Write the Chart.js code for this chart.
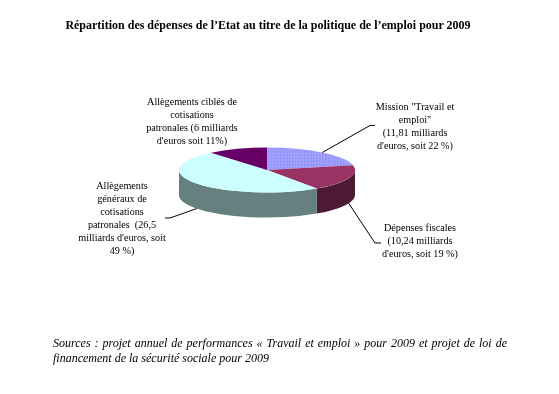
<!doctype html>
<html lang="fr">
<head>
    <meta charset="utf-8">
    <title>Répartition des dépenses de l'Etat</title>
    <script src="https://cdn.jsdelivr.net/npm/chart.js"></script>
    <style>
        body {
            margin: 0;
            background: #fff;
        }

        #wrap {
            position: relative;
            width: 559px;
            height: 394px;
            overflow: hidden;
        }

        #pie {
            position: absolute;
            left: 0;
            top: 0;
        }

        #title {
            position: absolute;
            left: 0;
            top: 18px;
            width: 536px;
            font: bold 12px/14px "Liberation Serif", serif;
            color: #000;
            text-align: center;
            white-space: nowrap;
        }

        #source {
            position: absolute;
            left: 53px;
            top: 336px;
            width: 454px;
            font: italic 12px/15px "Liberation Serif", serif;
            color: #000;
            text-align: justify;
        }
    </style>
</head>

<body>
    <div id="wrap">
        <canvas id="pie" width="559" height="394"></canvas>
        <div id="title">Répartition des dépenses de l’Etat au titre de la politique de l’emploi pour 2009</div>
        <div id="source">Sources : projet annuel de performances « Travail et emploi » pour 2009 et projet de loi de financement de la sécurité sociale pour 2009</div>
    </div>

    <script>
        const categories = ['Mission "Travail et emploi"', 'Dépenses fiscales', 'Allègements généraux de cotisations patronales', 'Allègements ciblés de cotisations patronales'];
        const billions = [11.81, 10.24, 26.5, 6];
        const labelLines = [
            ['Mission "Travail et', 'emploi"', '(11,81 milliards', "d'euros, soit 22 %)"],
            ['Dépenses fiscales', '(10,24 milliards', "d'euros, soit 19 %)"],
            ['Allègements', 'généraux de', 'cotisations', 'patronales  (26,5', "milliards d'euros, soit", '49 %)'],
            ['Allègements ciblés de', 'cotisations', 'patronales (6 milliards', "d'euros soit 11%)"]
        ];
        const sideColors = ['#6b6bb3', '#4d1a33', '#668080', '#330033'];

        // where the label blocks sit, and the elbow of each leader line
        const labelPos = [[415, 107], [420, 228], [122, 186], [192, 102]];
        const elbows = [[[370, 125.5], [375, 125.5]], [[375, 243], [381, 243]], [[170, 218], [165, 218]], null];

        const squash = 0.256;
        const depth = 25;

        // blue slice has a dithered fill in the original
        function bluePattern() {
            const c = document.createElement('canvas');
            c.width = 3;
            c.height = 3;
            const g = c.getContext('2d');
            g.fillStyle = '#9c9cff';
            g.fillRect(0, 0, 3, 3);
            g.fillStyle = '#aeaeff';
            g.fillRect(0, 0, 1, 1);
            g.fillStyle = '#8c8cf5';
            g.fillRect(1, 1, 1, 1);
            return g.createPattern(c, 'repeat');
        }

        const faceColors = [bluePattern(), '#993366', '#ccffff', '#660066'];

        const pie3d = {
            id: 'pie3d',
            beforeDatasetsDraw(chart) {
                const ctx = chart.ctx;
                const arcs = chart.getDatasetMeta(0).data;
                const cx = arcs[0].x;
                const cy = arcs[0].y;
                const r = arcs[0].outerRadius;
                const ry = r * squash;

                // side wall, only the front half of the ellipse shows
                arcs.forEach((arc, i) => {
                    const a = Math.max(arc.startAngle, 0);
                    const b = Math.min(arc.endAngle, Math.PI);
                    if (b <= a) return;
                    ctx.beginPath();
                    ctx.ellipse(cx, cy + depth, r, ry, 0, a, b);
                    ctx.ellipse(cx, cy, r, ry, 0, b, a, true);
                    ctx.closePath();
                    ctx.fillStyle = sideColors[i];
                    ctx.fill();
                });

                // library draws the top face inside this squash
                ctx.save();
                ctx.translate(cx, cy);
                ctx.scale(1, squash);
                ctx.translate(-cx, -cy);
            },
            afterDatasetsDraw(chart) {
                chart.ctx.restore();
            },
            afterDraw(chart) {
                const ctx = chart.ctx;
                const arcs = chart.getDatasetMeta(0).data;

                ctx.save();
                ctx.strokeStyle = '#000';
                ctx.lineWidth = 1;
                arcs.forEach((arc, i) => {
                    if (!elbows[i]) return;
                    const mid = (arc.startAngle + arc.endAngle) / 2;
                    const x = arc.x + arc.outerRadius * Math.cos(mid);
                    let y = arc.y + arc.outerRadius * squash * Math.sin(mid);
                    if (Math.sin(mid) > 0) y += depth;
                    ctx.beginPath();
                    ctx.moveTo(x, y);
                    elbows[i].forEach(p => ctx.lineTo(p[0], p[1]));
                    ctx.stroke();
                });

                ctx.fillStyle = '#000';
                ctx.font = '10.2px "Liberation Serif", serif';
                ctx.textAlign = 'center';
                ctx.textBaseline = 'middle';
                labelLines.forEach((lines, i) => {
                    lines.forEach((line, n) => {
                        ctx.fillText(line, labelPos[i][0], labelPos[i][1] + n * 13);
                    });
                });
                ctx.restore();
            }
        };

        new Chart(document.getElementById('pie'), {
            type: 'pie',
            data: {
                labels: categories,
                datasets: [{
                    data: billions,
                    backgroundColor: faceColors,
                    borderWidth: 0,
                    clip: false
                }]
            },
            options: {
                responsive: false,
                animation: false,
                layout: {
                    padding: { left: 179, right: 204, top: 82, bottom: 136 }
                },
                plugins: {
                    legend: { display: false },
                    tooltip: { enabled: false }
                }
            },
            plugins: [pie3d]
        });
    </script>
</body>

</html>
